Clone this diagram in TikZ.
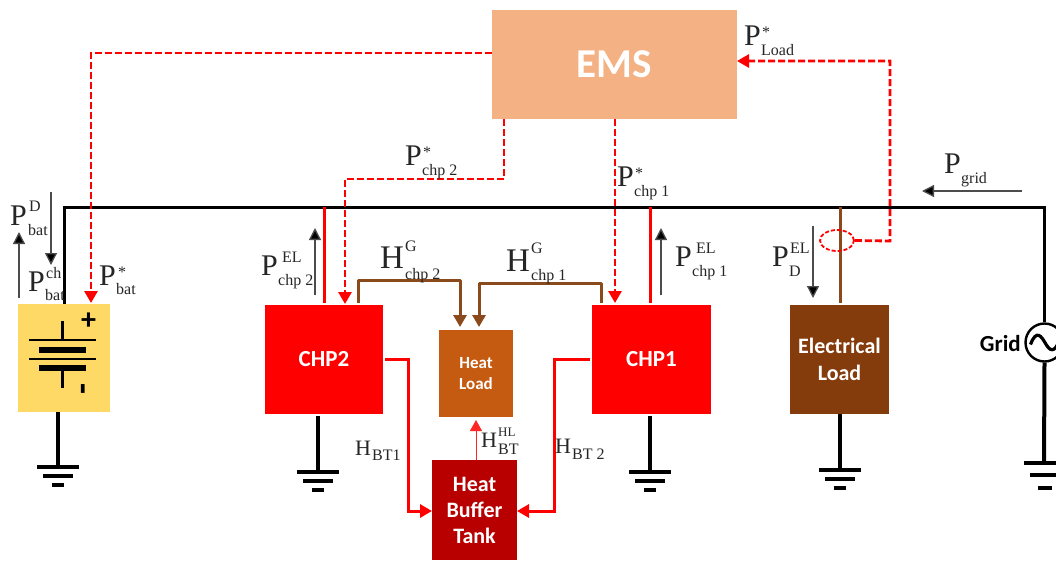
\documentclass[tikz,border=0pt]{standalone}
\usepackage{fontspec}
\setmainfont{Liberation Serif}
\newfontfamily\cbf{Carlito}
\usetikzlibrary{arrows.meta,calc,shapes.geometric}
\definecolor{emsc}{HTML}{F4B183}
\definecolor{batc}{HTML}{FFD966}
\definecolor{heatc}{HTML}{C55A11}
\definecolor{tankc}{HTML}{B80000}
\definecolor{elc}{HTML}{843C0C}
\definecolor{brownl}{HTML}{8B4A1B}
\definecolor{labc}{HTML}{262626}
\tikzset{
  x=1pt,y=-1pt,
  box/.style={anchor=north west,inner sep=0,outer sep=0,text=white,align=center,font=\cbf\bfseries},
  bigP/.style={anchor=base west,inner sep=0,text=labc,font=\fontsize{30}{30}\selectfont},
  bigH/.style={anchor=base west,inner sep=0,text=labc,font=\fontsize{33}{33}\selectfont},
  smallH/.style={anchor=base west,inner sep=0,text=labc,font=\fontsize{22}{22}\selectfont},
  tiny/.style={anchor=base west,inner sep=0,text=labc,font=\fontsize{16}{16}\selectfont},
  tinier/.style={anchor=base west,inner sep=0,text=labc,font=\fontsize{13}{13}\selectfont},
  ctrl/.style={red,line width=2.8pt,dash pattern=on 7pt off 3pt,-{Triangle[length=12pt,width=13pt]}},
  heat/.style={red,line width=3pt,-{Triangle[length=12pt,width=13pt]}},
  hgen/.style={brownl,line width=3pt,-{Triangle[length=12pt,width=13pt]}},
  flow/.style={black!70,line width=1.3pt,-{Triangle[length=12pt,width=12pt,fill=black]}},
  bus/.style={black,line width=3pt},
  gbar/.style={black,line width=4pt},
}
\newcommand{\gnd}[3]{% x, y of top bar, top of stem
  \draw[gbar] (#1,#3) -- (#1,#2);
  \draw[gbar] (#1-21,#2) -- (#1+21,#2);
  \draw[gbar] (#1-15,#2+9) -- (#1+15,#2+9);
  \draw[gbar] (#1-6,#2+18) -- (#1+6,#2+18);
}
\begin{document}
\begin{tikzpicture}
\clip (0,0) rectangle (1056,560);
\fill[white] (0,0) rectangle (1056,560);

% boxes
\node[box,fill=emsc,minimum width=245pt,minimum height=109pt,font=\cbf\bfseries\fontsize{41}{41}\selectfont] (ems) at (492,10) {EMS};
\node[box,fill=batc,minimum width=92pt,minimum height=108pt] (bat) at (18,304) {};
\node[box,fill=red,minimum width=118pt,minimum height=109pt,font=\cbf\bfseries\fontsize{23}{23}\selectfont] (chp2) at (265,305) {CHP2};
\node[box,fill=red,minimum width=119pt,minimum height=109pt,font=\cbf\bfseries\fontsize{23}{23}\selectfont] (chp1) at (592,305) {CHP1};
\node[box,fill=heatc,minimum width=74pt,minimum height=87pt,font=\cbf\bfseries\fontsize{17}{21}\selectfont] (hl) at (439,330) {Heat\\Load};
\node[box,fill=tankc,minimum width=85pt,minimum height=100pt,font=\cbf\bfseries\fontsize{22}{26}\selectfont] (tank) at (432,460) {Heat\\Buffer\\Tank};
\node[box,fill=elc,minimum width=99pt,minimum height=109pt,font=\cbf\bfseries\fontsize{22}{27}\selectfont,text depth=-4pt] (el) at (790,305) {Electrical\\Load};

% grid source
\node[circle,draw=black,fill=white,line width=2.4pt,minimum size=38pt,inner sep=0] (src) at (1044.5,342.5) {};
\node[anchor=east,inner sep=0,font=\cbf\bfseries\fontsize{23}{23}\selectfont] (gridt) at (1021,344) {Grid};
\draw[black,line width=3.2pt] ($(src.center)+(-14,2)$) .. controls ($(src.center)+(-8,-14)$) and ($(src.center)+(-3,-6)$) .. ($(src.center)+(1,1)$) .. controls ($(src.center)+(5,8)$) and ($(src.center)+(10,12)$) .. ($(src.center)+(15,-3)$);

% bus
\coordinate (busL) at (64,207);
\coordinate (busR) at (src.north |- busL);
\draw[bus,line join=miter] ($(bat.north west)+(46,0)$) -- (busL) -- (busR) -- (src.north);

% feeders
\coordinate (f2) at (324,207);
\coordinate (f1) at (650,207);
\coordinate (f3) at (840,207);
\draw[red,line width=3pt] ($(f2 |- chp2.north)+(0,-2)$) -- (f2);
\draw[red,line width=3pt] ($(f1 |- chp1.north)+(0,-2)$) -- (f1);
\draw[brownl,line width=3pt] ($(f3 |- el.north)+(0,-2)$) -- (f3);

% grounds
\gnd{58}{467}{412}
\gnd{318}{472}{416}
\gnd{650}{472}{416}
\gnd{840}{470}{414}
\draw[gbar] (src.south) -- (1044,463);
\draw[gbar] (1024,463) -- (1066,463);
\draw[gbar] (1030,475) -- (1060,475);
\draw[gbar] (1038,488) -- (1052,488);

% battery symbol
\draw[black,line width=3pt] (62.5,321) -- (62.5,340);
\draw[black,line width=2.6pt] (29,340) -- (96,340);
\draw[black,line width=5.5pt] (39,350) -- (86,350);
\draw[black,line width=2.6pt] (29,359) -- (96,359);
\draw[black,line width=5.5pt] (39,368) -- (86,368);
\draw[black,line width=3pt] (62.5,368) -- (62.5,388);
\node[inner sep=0,font=\cbf\bfseries\fontsize{30}{30}\selectfont] (plus) at (88.5,321) {+};
\node[inner sep=0,rotate=90,font=\cbf\bfseries\fontsize{36}{36}\selectfont] (minus) at (87.5,389) {-};

% control signals
\coordinate (c1a) at (91,53);
\coordinate (c1b) at (91,303);
\draw[ctrl] (ems.west |- c1a) -- (c1a) -- (c1b);
\coordinate (c2a) at (504,179);
\coordinate (c2b) at (345,179);
\coordinate (c2c) at (345,304);
\draw[ctrl] (c2a |- ems.south) -- (c2a) -- (c2b) -- (c2c);
\coordinate (c3) at (615,303);
\draw[ctrl] (c3 |- ems.south) -- (c3);
\node[ellipse,draw=red,line width=1.8pt,dash pattern=on 4pt off 2pt,minimum width=34pt,minimum height=21pt,inner sep=0] (sens) at (837,240.5) {};
\coordinate (c4a) at (890,241);
\coordinate (c4b) at (890,61);
\draw[ctrl] (sens.east) -- (c4a) -- (c4b) -- (ems.east |- c4b);

% heat
\coordinate (h1a) at (408,359);
\coordinate (h1b) at (408,511);
\draw[heat] ($(chp2.east |- h1a)+(2,0)$) -- (h1a) -- (h1b) -- (tank.west |- h1b);
\coordinate (h2a) at (554,359);
\coordinate (h2b) at (554,511);
\draw[heat] ($(chp1.west |- h2a)+(-2,0)$) -- (h2a) -- (h2b) -- (tank.east |- h2b);
\coordinate (h3) at (476,420);
\draw[red!85,line width=1pt,-{Triangle[length=11pt,width=12pt]}] (h3 |- tank.north) -- (h3);
\coordinate (g2a) at (358,280);
\coordinate (g2b) at (460,280);
\coordinate (g2c) at (460,327);
\draw[hgen,line join=round] ($(g2a |- chp2.north)+(0,-2)$) -- (g2a) -- (g2b) -- (g2c);
\coordinate (g1a) at (601,283);
\coordinate (g1b) at (479,283);
\coordinate (g1c) at (479,327);
\draw[hgen,line join=round] ($(g1a |- chp1.north)+(0,-2)$) -- (g1a) -- (g1b) -- (g1c);

% power arrows
\coordinate (a1s) at (19,298); \coordinate (a1e) at (19,232);
\draw[flow] (a1s) -- (a1e);
\coordinate (a2s) at (51,192); \coordinate (a2e) at (51,265);
\draw[flow] (a2s) -- (a2e);
\coordinate (a3s) at (315,295); \coordinate (a3e) at (315,228);
\draw[flow] (a3s) -- (a3e);
\coordinate (a4s) at (661,295); \coordinate (a4e) at (661,228);
\draw[flow] (a4s) -- (a4e);
\coordinate (a5s) at (813,226); \coordinate (a5e) at (813,298);
\draw[flow] (a5s) -- (a5e);
\coordinate (a6s) at (1022,191); \coordinate (a6e) at (922,191);
\draw[flow] (a6s) -- (a6e);

% labels
\node[bigP] (l1) at (10,225) {P}; \node[tiny] (l1a) at (29,211) {D}; \node[tiny] (l1b) at (28,235) {bat};
\node[bigP] (l2) at (28,291) {P}; \node[tiny] (l2a) at (46,278) {ch}; \node[tiny] (l2b) at (45,300) {bat};
\node[bigP] (l3) at (99,285) {P}; \node[tiny] (l3a) at (118,277) {*}; \node[tiny] (l3b) at (116,294) {bat};
\node[bigP] (l4) at (405,165) {P}; \node[tiny] (l4a) at (423,157) {*}; \node[tiny] (l4b) at (422,175) {chp 2};
\node[bigP] (l5) at (617,186) {P}; \node[tiny] (l5a) at (635,178) {*}; \node[tiny] (l5b) at (634,196) {chp 1};
\node[bigP] (l6) at (744,45) {P}; \node[tiny] (l6a) at (762,37) {*}; \node[tiny] (l6b) at (761,55) {Load};
\node[bigP] (l7) at (944,173) {P}; \node[tiny] (l7b) at (961,183) {grid};
\node[bigP] (l8) at (772,266) {P}; \node[tiny] (l8a) at (790,253) {EL}; \node[tiny] (l8b) at (789,276) {D};
\node[bigP] (l9) at (261,275) {P}; \node[tiny] (l9a) at (282,262) {EL}; \node[tiny] (l9b) at (278,285) {chp 2};
\node[bigP] (l10) at (675,266) {P}; \node[tiny] (l10a) at (696,253) {EL}; \node[tiny] (l10b) at (692,276) {chp 1};
\node[bigH] (l11) at (380,268) {H}; \node[tiny] (l11a) at (405,251) {G}; \node[tiny] (l11b) at (405,279) {chp 2};
\node[bigH] (l12) at (506,271) {H}; \node[tiny] (l12a) at (531,253) {G}; \node[tiny] (l12b) at (531,280) {chp 1};
\node[smallH] (l13) at (355,455) {H}; \node[tiny] (l13b) at (372,460) {BT1};
\node[smallH] (l14) at (481,447) {H}; \node[tinier] (l14a) at (498,436) {HL}; \node[tiny] (l14b) at (498,454) {BT};
\node[smallH] (l15) at (555,453) {H}; \node[tiny] (l15b) at (572,459) {BT 2};
\end{tikzpicture}
\end{document}
